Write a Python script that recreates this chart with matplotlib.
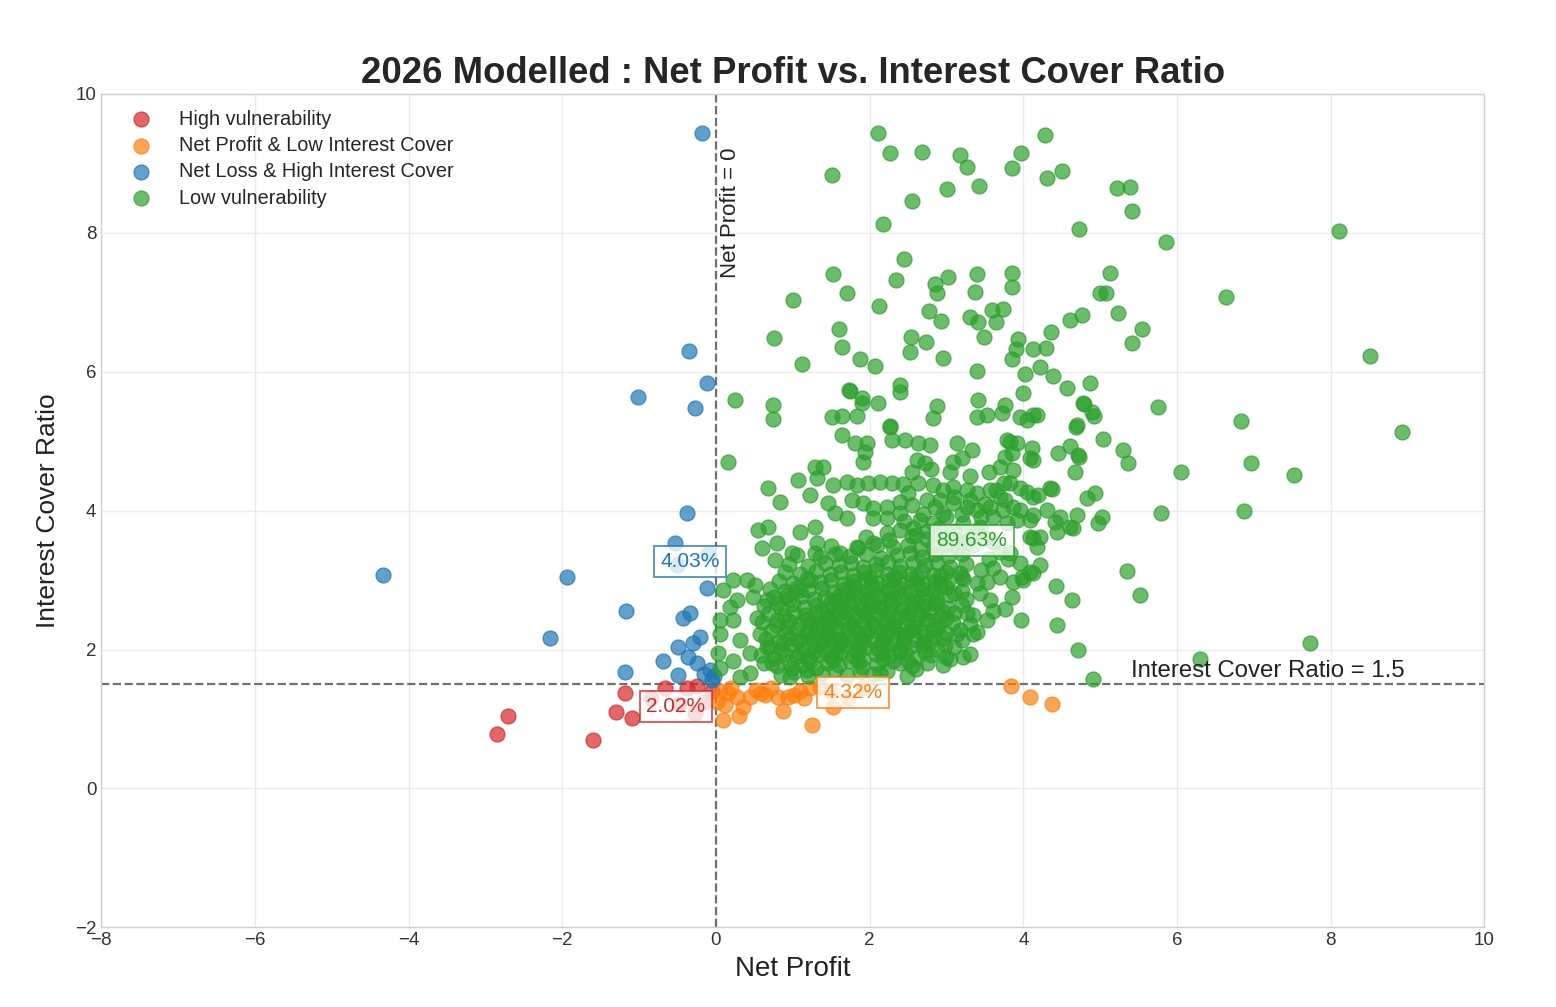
import matplotlib.pyplot as plt
import numpy as np

# 数据：近似坐标
high_x = [-2.85, -2.70, -1.60, -1.30, -1.18, -1.09, -0.66, -0.25, -0.27, -0.05, -0.48, -0.85, -0.15, -0.38]
high_y = [0.78, 1.05, 0.70, 1.10, 1.37, 1.02, 1.44, 1.47, 1.08, 1.40, 1.22, 1.30, 1.25, 1.45]

profit_low_x = [0.16, 0.09, 0.35, 0.27, 0.64, 0.81, 0.87, 0.94, 1.09, 1.22, 1.25, 1.52, 0.05, 0.44, 3.84,
                4.09, 4.37, 1.50, 1.72, 1.92, 0.20, 0.52, 0.72, 1.02, 0.30, 1.15, 0.12, 0.58, 1.35, 0.02]
profit_low_y = [1.37, 0.98, 1.17, 1.31, 1.34, 1.31, 1.12, 1.31, 1.41, 1.44, 0.91, 1.17, 1.41, 1.31, 1.47,
                1.31, 1.22, 1.40, 1.30, 1.45, 1.45, 1.42, 1.45, 1.35, 1.05, 1.30, 1.20, 1.38, 1.46, 1.25]

loss_high_x = [-0.18, -0.35, -0.12, -1.02, -0.27, -0.38, -0.53, -0.51, -0.10, -4.33, -1.94, -0.12, -1.17, -0.34,
               -0.43, -2.16, -0.21, -0.30, -0.49, -0.69, -0.36, -0.25, -1.18, -0.49, -0.08, -0.05, -0.15, -0.02]
loss_high_y = [9.44, 6.30, 5.84, 5.63, 5.48, 3.96, 3.54, 3.21, 3.38, 3.07, 3.04, 2.88, 2.56, 2.52,
               2.45, 2.16, 2.18, 2.10, 2.03, 1.84, 1.89, 1.80, 1.67, 1.63, 1.70, 1.56, 1.65, 1.62]

# 低脆弱性：外围稀疏点
low_outer = [
    (2.11, 9.44), (2.26, 9.15), (2.68, 9.16), (3.18, 9.11), (3.27, 8.94), (3.97, 9.15), (3.85, 8.93), (4.28, 9.41),
    (4.31, 8.78), (4.50, 8.88), (1.51, 8.83), (3.01, 8.63), (3.42, 8.67), (2.55, 8.46), (2.17, 8.13), (4.72, 8.05),
    (5.22, 8.64), (5.39, 8.66), (5.41, 8.31), (5.86, 7.87), (8.11, 8.03),
    (2.45, 7.62), (1.52, 7.41), (2.34, 7.32), (2.85, 7.26), (3.02, 7.36), (3.40, 7.41), (3.85, 7.42), (3.85, 7.22),
    (3.37, 7.15), (2.88, 7.13), (1.71, 7.13), (1.00, 7.03), (2.12, 6.95), (2.77, 6.87), (2.93, 6.73), (3.31, 6.79),
    (3.41, 6.71), (3.59, 6.89), (3.74, 6.90), (3.65, 6.71), (4.61, 6.74), (4.76, 6.82), (5.00, 7.13), (5.13, 7.42),
    (5.08, 7.13), (5.23, 6.84), (6.64, 7.08),
    (1.60, 6.61), (0.76, 6.48), (1.64, 6.35), (2.54, 6.50), (2.73, 6.43), (2.52, 6.28), (3.49, 6.50), (3.93, 6.47),
    (3.91, 6.33), (4.36, 6.57), (4.13, 6.33), (4.30, 6.34), (5.54, 6.61), (5.42, 6.41), (8.51, 6.22),
    (2.95, 6.20), (1.87, 6.18), (1.12, 6.11), (2.07, 6.08), (3.85, 6.18), (3.40, 6.01), (4.02, 5.97), (4.22, 6.07),
    (4.39, 5.94), (4.57, 5.76), (4.87, 5.84), (1.73, 5.74), (2.40, 5.81), (4.00, 5.69),
    (5.75, 5.49), (6.83, 5.29), (8.93, 5.13), (4.79, 5.53), (4.92, 5.36), (4.69, 5.20), (5.04, 5.03), (5.30, 4.87),
    (5.36, 4.69), (6.05, 4.56), (6.96, 4.69), (7.52, 4.51), (6.87, 3.99), (5.79, 3.97), (5.35, 3.13), (5.52, 2.78),
    (7.73, 2.10), (6.30, 1.87), (4.91, 1.57), (4.71, 1.99), (4.44, 2.36), (3.97, 2.43), (4.63, 2.71), (4.43, 2.91),
]

# 低脆弱性：中部
low_mid = [
    (4.13, 5.38), (4.05, 5.30), (3.83, 4.99), (3.92, 4.97), (4.11, 4.90), (4.13, 4.73), (4.45, 4.83), (4.61, 4.93),
    (4.72, 4.77), (4.67, 4.56), (3.76, 4.77), (3.87, 4.58), (3.83, 4.39), (3.96, 4.32), (4.05, 4.27), (4.37, 4.31),
    (4.19, 4.22), (4.83, 4.18), (4.93, 4.25), (4.70, 3.93), (5.02, 3.91), (4.97, 3.82), (4.31, 4.01), (4.41, 3.83),
    (4.44, 3.69), (4.65, 3.75), (4.09, 3.86), (4.13, 3.60), (4.22, 3.62), (3.76, 4.15), (3.87, 4.05), (4.22, 3.21),
    (4.09, 3.11), (3.98, 3.04), (3.87, 2.97), (3.85, 2.75), (3.76, 2.59),
    (0.25, 5.59), (0.74, 5.52), (0.74, 5.32), (1.74, 5.72), (1.90, 5.55), (2.11, 5.55), (1.51, 5.35), (1.64, 5.36),
    (1.84, 5.36), (2.26, 5.22), (2.40, 5.70), (2.88, 5.50), (2.83, 5.33), (3.41, 5.59), (3.40, 5.35), (3.53, 5.37),
    (3.76, 5.52), (3.72, 5.40), (4.18, 5.37), (4.78, 5.55), (4.89, 5.42), (4.70, 5.23), (1.90, 5.62), (3.96, 5.35),
    (0.16, 4.70), (1.64, 5.09), (1.81, 4.97), (1.96, 4.97), (1.94, 4.84), (1.92, 4.70), (2.26, 5.20), (2.29, 5.01),
    (2.46, 5.01), (2.63, 4.97), (2.79, 4.94), (2.62, 4.73), (2.72, 4.68), (3.14, 4.97), (3.33, 4.87), (3.20, 4.76),
    (3.08, 4.70), (3.79, 5.01), (3.85, 4.83), (3.70, 4.63), (4.09, 4.76), (4.71, 4.80),
    (1.07, 4.44), (1.29, 4.63), (1.39, 4.63), (1.31, 4.47), (0.68, 4.32), (0.83, 4.12), (1.22, 4.22), (1.46, 4.11),
    (1.52, 4.37), (1.71, 4.41), (1.84, 4.37), (1.98, 4.39), (2.13, 4.41), (2.29, 4.40), (2.43, 4.38), (2.63, 4.39),
    (2.83, 4.37), (2.95, 4.29), (3.08, 4.34), (3.27, 4.29), (3.40, 4.25), (3.57, 4.29), (3.70, 4.19), (4.13, 4.19),
    (4.35, 4.32), (1.77, 4.15), (1.92, 4.11), (2.04, 4.03), (2.23, 4.05), (2.40, 4.12), (2.55, 4.08), (2.75, 4.15),
    (2.92, 4.15), (3.08, 4.11), (3.27, 4.05), (3.40, 4.01), (3.57, 4.05), (3.74, 4.01), (3.96, 4.01), (4.13, 3.93),
    (4.48, 3.91), (4.61, 3.76),
    (0.55, 3.72), (0.68, 3.76), (0.79, 3.54), (0.60, 3.46), (0.77, 3.29), (1.09, 3.69), (1.29, 3.76), (1.31, 3.53),
    (1.29, 3.39), (0.99, 3.39), (1.61, 3.39), (1.84, 3.47), (2.04, 3.53), (2.23, 3.67), (2.40, 3.72), (2.56, 3.75),
    (2.04, 3.89), (2.23, 3.89), (2.40, 3.96), (1.71, 3.89), (1.55, 3.96), (2.66, 3.86), (2.83, 3.82), (3.00, 3.91),
    (3.22, 3.82), (3.44, 3.76), (3.61, 3.91), (3.79, 3.82), (3.92, 3.86), (4.09, 3.62), (4.18, 3.47),
    (3.83, 3.39), (3.96, 3.24), (4.13, 3.10), (4.00, 3.00), (3.61, 3.18), (3.70, 3.04), (3.53, 2.97), (3.44, 2.81),
    (3.57, 2.71), (3.61, 2.56), (3.53, 2.42), (3.27, 2.52), (3.35, 2.23), (3.14, 2.23), (3.22, 1.89), (3.00, 1.89),
    (2.83, 2.18), (2.40, 1.80), (2.13, 1.66),
    (0.09, 2.85), (0.22, 3.00), (0.40, 3.00), (0.51, 2.93), (0.18, 2.61), (0.27, 2.71), (0.48, 2.75), (0.66, 2.71),
    (0.79, 2.67), (0.92, 2.78), (1.09, 2.85), (1.22, 3.00), (0.05, 2.42), (0.05, 2.23), (0.03, 1.95), (0.05, 1.74),
    (0.22, 2.42), (0.31, 2.13), (0.22, 1.84), (0.44, 1.95), (0.44, 1.66), (0.31, 1.60), (0.53, 2.46), (0.57, 2.23),
    (0.66, 2.03), (0.73, 1.80), (0.79, 2.42), (0.92, 2.32), (0.87, 2.09), (1.05, 2.13), (1.09, 1.95), (0.99, 1.74),
    (1.18, 1.70), (0.96, 1.60),
    (2.50, 4.25), (2.85, 4.05), (3.10, 4.20), (3.30, 4.15), (3.50, 4.10), (3.65, 4.30), (3.20, 3.95), (3.45, 3.90),
    (2.95, 3.95), (2.70, 3.95), (3.75, 4.40), (3.55, 4.55), (3.30, 4.50), (3.05, 4.55), (2.80, 4.60), (2.55, 4.55),
    (3.40, 3.70), (3.60, 3.55), (3.70, 3.40), (3.80, 3.30), (3.55, 3.30), (3.45, 3.15), (2.45, 3.85), (2.60, 3.65),
    (2.75, 3.70), (2.90, 3.75), (3.10, 3.70), (3.25, 3.55),
]

# 低脆弱性：密集核心区
low_core = [
    (0.85, 1.64), (1.02, 1.68), (1.20, 1.62), (1.38, 1.66), (1.55, 1.70), (1.70, 1.63), (1.88, 1.67), (2.05, 1.65),
    (2.22, 1.69), (2.48, 1.62), (2.60, 1.72),
    (0.62, 1.80), (0.80, 1.76), (0.95, 1.82), (1.12, 1.78), (1.30, 1.74), (1.45, 1.81), (1.60, 1.77), (1.75, 1.83),
    (1.90, 1.75), (2.10, 1.79), (2.30, 1.84), (2.55, 1.76), (2.75, 1.81), (2.95, 1.78),
    (0.58, 1.92), (0.75, 1.88), (0.90, 1.94), (1.05, 1.90), (1.20, 1.86), (1.35, 1.93), (1.50, 1.89), (1.62, 1.95),
    (1.78, 1.91), (1.92, 1.87), (2.08, 1.94), (2.25, 1.90), (2.40, 1.96), (2.60, 1.88), (2.80, 1.92), (3.05, 1.86),
    (3.30, 1.93),
    (0.70, 2.04), (0.85, 2.00), (1.00, 2.06), (1.15, 2.01), (1.28, 2.05), (1.42, 1.99), (1.55, 2.03), (1.68, 2.07),
    (1.82, 2.00), (1.95, 2.04), (2.10, 2.02), (2.22, 2.06), (2.38, 1.99), (2.52, 2.03), (2.70, 2.05), (2.88, 2.00),
    (3.10, 2.04),
    (0.65, 2.15), (0.82, 2.12), (0.97, 2.17), (1.10, 2.13), (1.25, 2.16), (1.38, 2.11), (1.50, 2.18), (1.63, 2.14),
    (1.77, 2.12), (1.90, 2.17), (2.03, 2.13), (2.17, 2.15), (2.30, 2.11), (2.45, 2.18), (2.60, 2.14), (2.78, 2.12),
    (2.95, 2.16), (3.20, 2.13),
    (0.72, 2.27), (0.90, 2.24), (1.05, 2.29), (1.18, 2.25), (1.32, 2.28), (1.45, 2.23), (1.58, 2.27), (1.72, 2.30),
    (1.85, 2.24), (1.98, 2.28), (2.12, 2.25), (2.25, 2.29), (2.38, 2.23), (2.52, 2.27), (2.66, 2.26), (2.82, 2.30),
    (3.00, 2.24), (3.18, 2.28), (3.40, 2.25),
    (0.60, 2.39), (0.78, 2.36), (0.95, 2.41), (1.10, 2.37), (1.24, 2.40), (1.37, 2.35), (1.50, 2.39), (1.64, 2.42),
    (1.78, 2.36), (1.91, 2.40), (2.05, 2.37), (2.18, 2.41), (2.32, 2.35), (2.46, 2.39), (2.60, 2.38), (2.74, 2.42),
    (2.90, 2.36), (3.08, 2.40), (3.30, 2.37),
    (0.68, 2.51), (0.88, 2.48), (1.02, 2.53), (1.16, 2.49), (1.30, 2.52), (1.44, 2.47), (1.57, 2.51), (1.70, 2.54),
    (1.84, 2.48), (1.97, 2.52), (2.10, 2.49), (2.24, 2.53), (2.37, 2.47), (2.50, 2.51), (2.64, 2.50), (2.78, 2.54),
    (2.93, 2.48), (3.10, 2.52), (3.35, 2.49),
    (0.62, 2.63), (0.85, 2.60), (1.00, 2.65), (1.15, 2.61), (1.30, 2.64), (1.45, 2.59), (1.60, 2.63), (1.73, 2.66),
    (1.87, 2.60), (2.00, 2.64), (2.14, 2.61), (2.28, 2.65), (2.42, 2.59), (2.56, 2.63), (2.70, 2.62), (2.85, 2.66),
    (3.02, 2.60), (3.20, 2.64),
    (0.75, 2.75), (0.95, 2.72), (1.12, 2.77), (1.28, 2.73), (1.42, 2.76), (1.56, 2.71), (1.70, 2.75), (1.84, 2.78),
    (1.98, 2.72), (2.12, 2.76), (2.26, 2.73), (2.40, 2.77), (2.55, 2.71), (2.70, 2.75), (2.86, 2.74), (3.05, 2.78),
    (3.25, 2.72),
    (0.70, 2.87), (0.90, 2.84), (1.05, 2.89), (1.20, 2.85), (1.38, 2.88), (1.52, 2.83), (1.67, 2.87), (1.80, 2.90),
    (1.95, 2.84), (2.10, 2.88), (2.24, 2.85), (2.38, 2.89), (2.52, 2.83), (2.68, 2.87), (2.84, 2.86), (3.00, 2.90),
    (3.20, 2.84),
    (0.82, 2.99), (1.00, 2.96), (1.18, 3.01), (1.35, 2.97), (1.50, 3.00), (1.65, 2.95), (1.80, 2.99), (1.95, 3.02),
    (2.10, 2.96), (2.25, 3.00), (2.40, 2.97), (2.55, 3.01), (2.70, 2.95), (2.85, 2.99), (3.02, 2.98), (3.22, 3.02),
    (3.40, 2.96),
    (0.90, 3.11), (1.10, 3.08), (1.30, 3.13), (1.48, 3.09), (1.63, 3.12), (1.78, 3.07), (1.93, 3.11), (2.08, 3.14),
    (2.23, 3.08), (2.38, 3.12), (2.53, 3.09), (2.68, 3.13), (2.83, 3.07), (3.00, 3.11), (3.18, 3.10),
    (0.95, 3.23), (1.20, 3.20), (1.42, 3.25), (1.60, 3.21), (1.76, 3.24), (1.92, 3.19), (2.08, 3.23), (2.24, 3.26),
    (2.40, 3.20), (2.56, 3.24), (2.72, 3.21), (2.88, 3.25), (3.05, 3.19), (3.25, 3.23),
    (1.05, 3.36), (1.35, 3.33), (1.55, 3.38), (1.75, 3.34), (1.95, 3.37), (2.15, 3.32), (2.35, 3.36), (2.52, 3.39),
    (2.68, 3.33), (2.85, 3.37), (3.02, 3.34), (3.20, 3.38),
    (1.50, 3.49), (1.85, 3.46), (2.10, 3.51), (2.30, 3.47), (2.50, 3.50), (2.66, 3.45), (2.82, 3.49), (3.00, 3.52),
    (3.15, 3.46), (3.35, 3.50),
    (1.95, 3.62), (2.25, 3.58), (2.55, 3.63), (2.75, 3.59), (2.95, 3.61), (3.12, 3.57), (3.30, 3.62), (3.50, 3.60),
    (1.22, 1.84), (1.52, 1.85), (1.85, 1.83), (2.18, 1.86), (2.50, 1.84),
    (1.28, 1.97), (1.56, 1.96), (1.86, 1.98), (2.16, 1.95), (2.46, 1.97), (2.72, 1.96),
    (1.36, 2.08), (1.62, 2.09), (1.88, 2.07), (2.16, 2.10), (2.44, 2.08), (2.70, 2.09), (2.98, 2.07),
    (1.18, 2.20), (1.44, 2.21), (1.70, 2.19), (1.95, 2.22), (2.20, 2.20), (2.46, 2.21), (2.72, 2.19),
    (1.30, 2.32), (1.56, 2.33), (1.80, 2.31), (2.06, 2.34), (2.32, 2.32), (2.58, 2.33), (2.86, 2.31),
    (1.20, 2.44), (1.46, 2.45), (1.72, 2.43), (1.98, 2.46), (2.24, 2.44), (2.50, 2.45), (2.76, 2.43), (3.00, 2.46),
    (1.38, 2.56), (1.64, 2.57), (1.90, 2.55), (2.16, 2.58), (2.42, 2.56), (2.68, 2.57), (2.94, 2.55),
    (1.50, 2.68), (1.78, 2.69), (2.05, 2.67), (2.32, 2.70), (2.60, 2.68), (2.88, 2.69),
    (1.62, 2.80), (1.90, 2.81), (2.18, 2.79), (2.46, 2.82), (2.74, 2.80), (3.10, 2.81),
    (1.74, 2.92), (2.02, 2.93), (2.30, 2.91), (2.60, 2.94), (2.92, 2.92),
    (2.00, 3.04), (2.32, 3.05), (2.62, 3.03), (2.92, 3.06), (3.20, 3.04),
]

low_x = [p[0] for p in low_outer + low_mid + low_core]
low_y = [p[1] for p in low_outer + low_mid + low_core]

group_names = ["High vulnerability", "Net Profit & Low Interest Cover",
               "Net Loss & High Interest Cover", "Low vulnerability"]
group_colors = ["#d62728", "#ff7f0e", "#1f77b4", "#2ca02c"]
share_labels = ["2.02%", "4.32%", "4.03%", "89.63%"]
share_pos = [(-0.52, 1.18), (1.78, 1.38), (-0.34, 3.27), (3.33, 3.57)]

plt.style.use('seaborn-v0_8-whitegrid')
plt.rcParams['font.family'] = ['Liberation Sans', 'DejaVu Sans']

fig = plt.figure(figsize=(15.56, 10.07), dpi=100)
ax = fig.add_axes([0.065, 0.079, 0.889, 0.828])

groups = [(high_x, high_y), (profit_low_x, profit_low_y), (loss_high_x, loss_high_y), (low_x, low_y)]
for (gx, gy), name, c in zip(groups, group_names, group_colors):
    ax.scatter(gx, gy, s=115, color=c, alpha=0.7, label=name, zorder=3)

# 参考线
ax.axhline(1.5, color='#707070', linestyle='--', linewidth=1.6, zorder=2)
ax.axvline(0, color='#707070', linestyle='--', linewidth=1.6, zorder=2)
ax.text(5.4, 1.53, "Interest Cover Ratio = 1.5", fontsize=17.3, color='#222222', ha='left', va='bottom')
ax.text(0.05, 9.22, "Net Profit = 0", fontsize=16, color='#222222', rotation=90, ha='left', va='top')

# 各象限占比标签
for s, (px, py), c in zip(share_labels, share_pos, group_colors):
    ax.text(px, py, s, fontsize=15, color=c, ha='center', va='center', zorder=5,
            bbox=dict(boxstyle='square,pad=0.3', facecolor='white', edgecolor=c, alpha=0.8, linewidth=1.3))

ax.set_xlim(-8, 10)
ax.set_ylim(-2, 10)
ax.set_xticks(np.arange(-8, 11, 2))
ax.set_yticks(np.arange(-2, 11, 2))
ax.tick_params(labelsize=13.5, colors='#333333')
ax.grid(True, color='#ebebeb', linewidth=1)
for sp in ax.spines.values():
    sp.set_color('#d0d0d0')

ax.set_title("2026 Modelled : Net Profit vs. Interest Cover Ratio", fontsize=26.3, fontweight='bold', pad=8)
ax.set_xlabel("Net Profit", fontsize=20, color='#222222', labelpad=5)
ax.set_ylabel("Interest Cover Ratio", fontsize=19, color='#222222', labelpad=10.5)

ax.legend(loc='upper left', bbox_to_anchor=(0.003, 1.0), fontsize=14.3, frameon=False,
          labelspacing=0.37, handletextpad=0.9, borderaxespad=0.4)

plt.savefig('out.png', dpi=100)
